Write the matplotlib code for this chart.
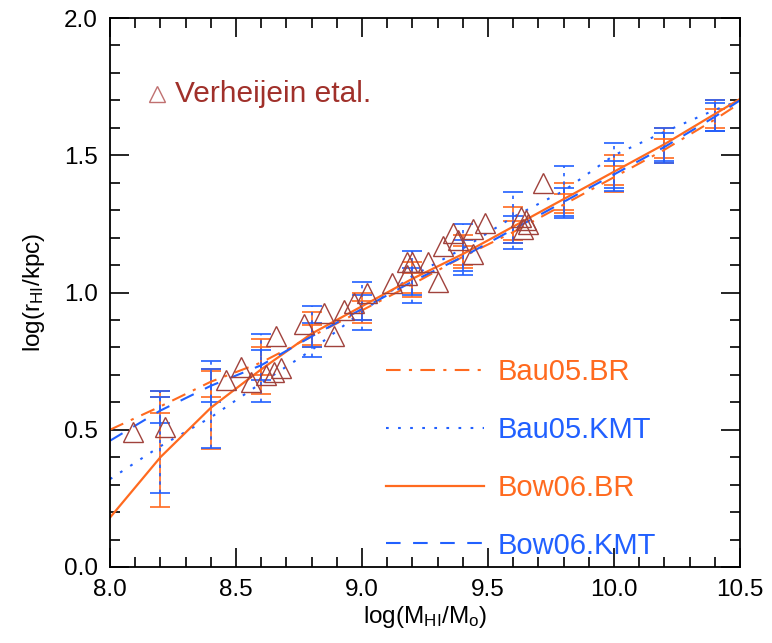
import numpy as np
import matplotlib
matplotlib.use("Agg")
import matplotlib.pyplot as plt

plt.rcParams['font.family'] = ['Liberation Sans', 'DejaVu Sans']
plt.rcParams['mathtext.fontset'] = 'custom'
plt.rcParams['mathtext.rm'] = 'Liberation Sans'
plt.rcParams['mathtext.it'] = 'Liberation Sans:italic'

orange = '#ff6a1f'
blue = '#2160ff'
brown = '#a0423c'

# model curves, log(M_HI) grid
x_model = [8.0, 8.2, 8.4, 8.6, 8.8, 9.0, 9.2, 9.4, 9.6, 9.8, 10.0, 10.2, 10.4, 10.5]
bau05_br = [0.50, 0.585, 0.675, 0.745, 0.84, 0.935, 1.03, 1.13, 1.22, 1.32, 1.42, 1.52, 1.63, 1.69]
bau05_kmt = [0.32, 0.44, 0.545, 0.67, 0.79, 0.93, 1.06, 1.16, 1.275, 1.37, 1.50, 1.585, 1.665, 1.70]
bow06_br = [0.18, 0.40, 0.58, 0.72, 0.85, 0.95, 1.05, 1.14, 1.24, 1.34, 1.44, 1.54, 1.65, 1.705]
bow06_kmt = [0.46, 0.57, 0.66, 0.735, 0.84, 0.94, 1.04, 1.13, 1.23, 1.33, 1.43, 1.53, 1.64, 1.70]

# error bar ranges (points 8.2 .. 10.4)
x_err = [8.2, 8.4, 8.6, 8.8, 9.0, 9.2, 9.4, 9.6, 9.8, 10.0, 10.2, 10.4]
bow06_br_lo = [0.22, 0.43, 0.63, 0.80, 0.89, 0.985, 1.09, 1.18, 1.30, 1.365, 1.47, 1.59]
bow06_br_hi = [0.64, 0.715, 0.83, 0.93, 1.00, 1.11, 1.21, 1.31, 1.40, 1.50, 1.60, 1.70]
bau05_kmt_lo = [0.27, 0.435, 0.60, 0.765, 0.865, 0.96, 1.065, 1.16, 1.27, 1.37, 1.47, 1.59]
bau05_kmt_hi = [0.64, 0.75, 0.85, 0.95, 1.04, 1.15, 1.25, 1.365, 1.46, 1.545, 1.60, 1.70]
bau05_br_lo = [0.56, 0.62, 0.70, 0.81, 0.90, 1.00, 1.10, 1.19, 1.29, 1.39, 1.49, 1.60]
bau05_br_hi = [0.62, 0.72, 0.80, 0.88, 0.97, 1.07, 1.17, 1.26, 1.36, 1.46, 1.56, 1.67]
bow06_kmt_lo = [0.525, 0.60, 0.68, 0.80, 0.90, 0.99, 1.08, 1.18, 1.28, 1.38, 1.48, 1.59]
bow06_kmt_hi = [0.62, 0.72, 0.79, 0.89, 0.99, 1.09, 1.19, 1.28, 1.38, 1.48, 1.58, 1.69]

# Verheijen et al. observations
obs_x = [8.09, 8.22, 8.46, 8.52, 8.56, 8.62, 8.65, 8.68, 8.66, 8.77, 8.85, 8.89, 8.93,
         8.97, 9.02, 9.12, 9.18, 9.18, 9.20, 9.26, 9.30, 9.32, 9.36, 9.38, 9.44, 9.44,
         9.49, 9.63, 9.64, 9.66, 9.65, 9.72]
obs_y = [0.49, 0.51, 0.68, 0.73, 0.675, 0.70, 0.71, 0.725, 0.84, 0.885, 0.925, 0.84, 0.935,
         0.96, 1.00, 1.035, 1.11, 1.065, 1.11, 1.11, 1.04, 1.17, 1.215, 1.19, 1.14, 1.23,
         1.255, 1.275, 1.23, 1.25, 1.265, 1.40]

fig = plt.figure(figsize=(7.72, 6.43), dpi=100)
ax = fig.add_axes([0.1425, 0.1182, 0.816, 0.8538])


def bars(center_curve, lo, hi, color, ls):
    c = np.array(center_curve[1:-1])
    yerr = [c - np.array(lo), np.array(hi) - c]
    eb = ax.errorbar(x_err, c, yerr=yerr, fmt='none', ecolor=color,
                     elinewidth=1.2, capsize=7, capthick=1.2)
    for col in eb[2]:
        col.set_linestyle(ls)


bars(bow06_br, bow06_br_lo, bow06_br_hi, orange, '-')
bars(bau05_br, bau05_br_lo, bau05_br_hi, orange, '-')
bars(bau05_kmt, bau05_kmt_lo, bau05_kmt_hi, blue, (0, (2, 3)))
bars(bow06_kmt, bow06_kmt_lo, bow06_kmt_hi, blue, (0, (4, 3)))

l1, = ax.plot(x_model, bau05_br, color=orange, lw=1.5, dashes=(7, 4, 1.5, 4), label='Bau05.BR')
l2, = ax.plot(x_model, bau05_kmt, color=blue, lw=1.5, dashes=(1.3, 4.5), label='Bau05.KMT')
l3, = ax.plot(x_model, bow06_br, color=orange, lw=1.6, label='Bow06.BR')
l4, = ax.plot(x_model, bow06_kmt, color=blue, lw=1.5, dashes=(7, 6), label='Bow06.KMT')

ax.plot(obs_x, obs_y, ls='none', marker='^', ms=15, mfc='none', mec=brown, mew=1.0)

leg = ax.legend(handles=[l1, l2, l3, l4], loc='upper left', bbox_to_anchor=(0.397, 0.428),
                frameon=False, fontsize=21, handlelength=3.35, handletextpad=0.45,
                labelspacing=1.02, labelcolor='linecolor')

ax.plot([0.075], [0.862], transform=ax.transAxes, ls='none', marker='^', ms=11,
        mfc='none', mec='#c07070', mew=1.0)
ax.text(0.103, 0.862, 'Verheijein etal.', transform=ax.transAxes, fontsize=21.5,
        color='#a0302a', va='center', ha='left')

ax.set_xlim(8.0, 10.5)
ax.set_ylim(0.0, 2.0)
ax.set_xticks(np.arange(8.0, 10.51, 0.5))
ax.set_yticks(np.arange(0.0, 2.01, 0.5))
ax.set_xticks(np.arange(8.0, 10.51, 0.1), minor=True)
ax.set_yticks(np.arange(0.0, 2.01, 0.1), minor=True)
ax.xaxis.set_major_formatter(matplotlib.ticker.FormatStrFormatter('%.1f'))
ax.yaxis.set_major_formatter(matplotlib.ticker.FormatStrFormatter('%.1f'))
ax.tick_params(which='both', direction='in', top=True, right=True, labelsize=17.5,
               width=1.2, color='black')
ax.tick_params(which='major', length=14, pad=9)
ax.tick_params(which='minor', length=7)
for s in ax.spines.values():
    s.set_linewidth(1.3)

ax.set_xlabel(r'log(M$_{\rm HI}$/M$_{\rm o}$)', fontsize=17.5, labelpad=2)
ax.set_ylabel(r'log(r$_{\rm HI}$/kpc)', fontsize=17.5, labelpad=12)

fig.savefig('out.png', dpi=100)
